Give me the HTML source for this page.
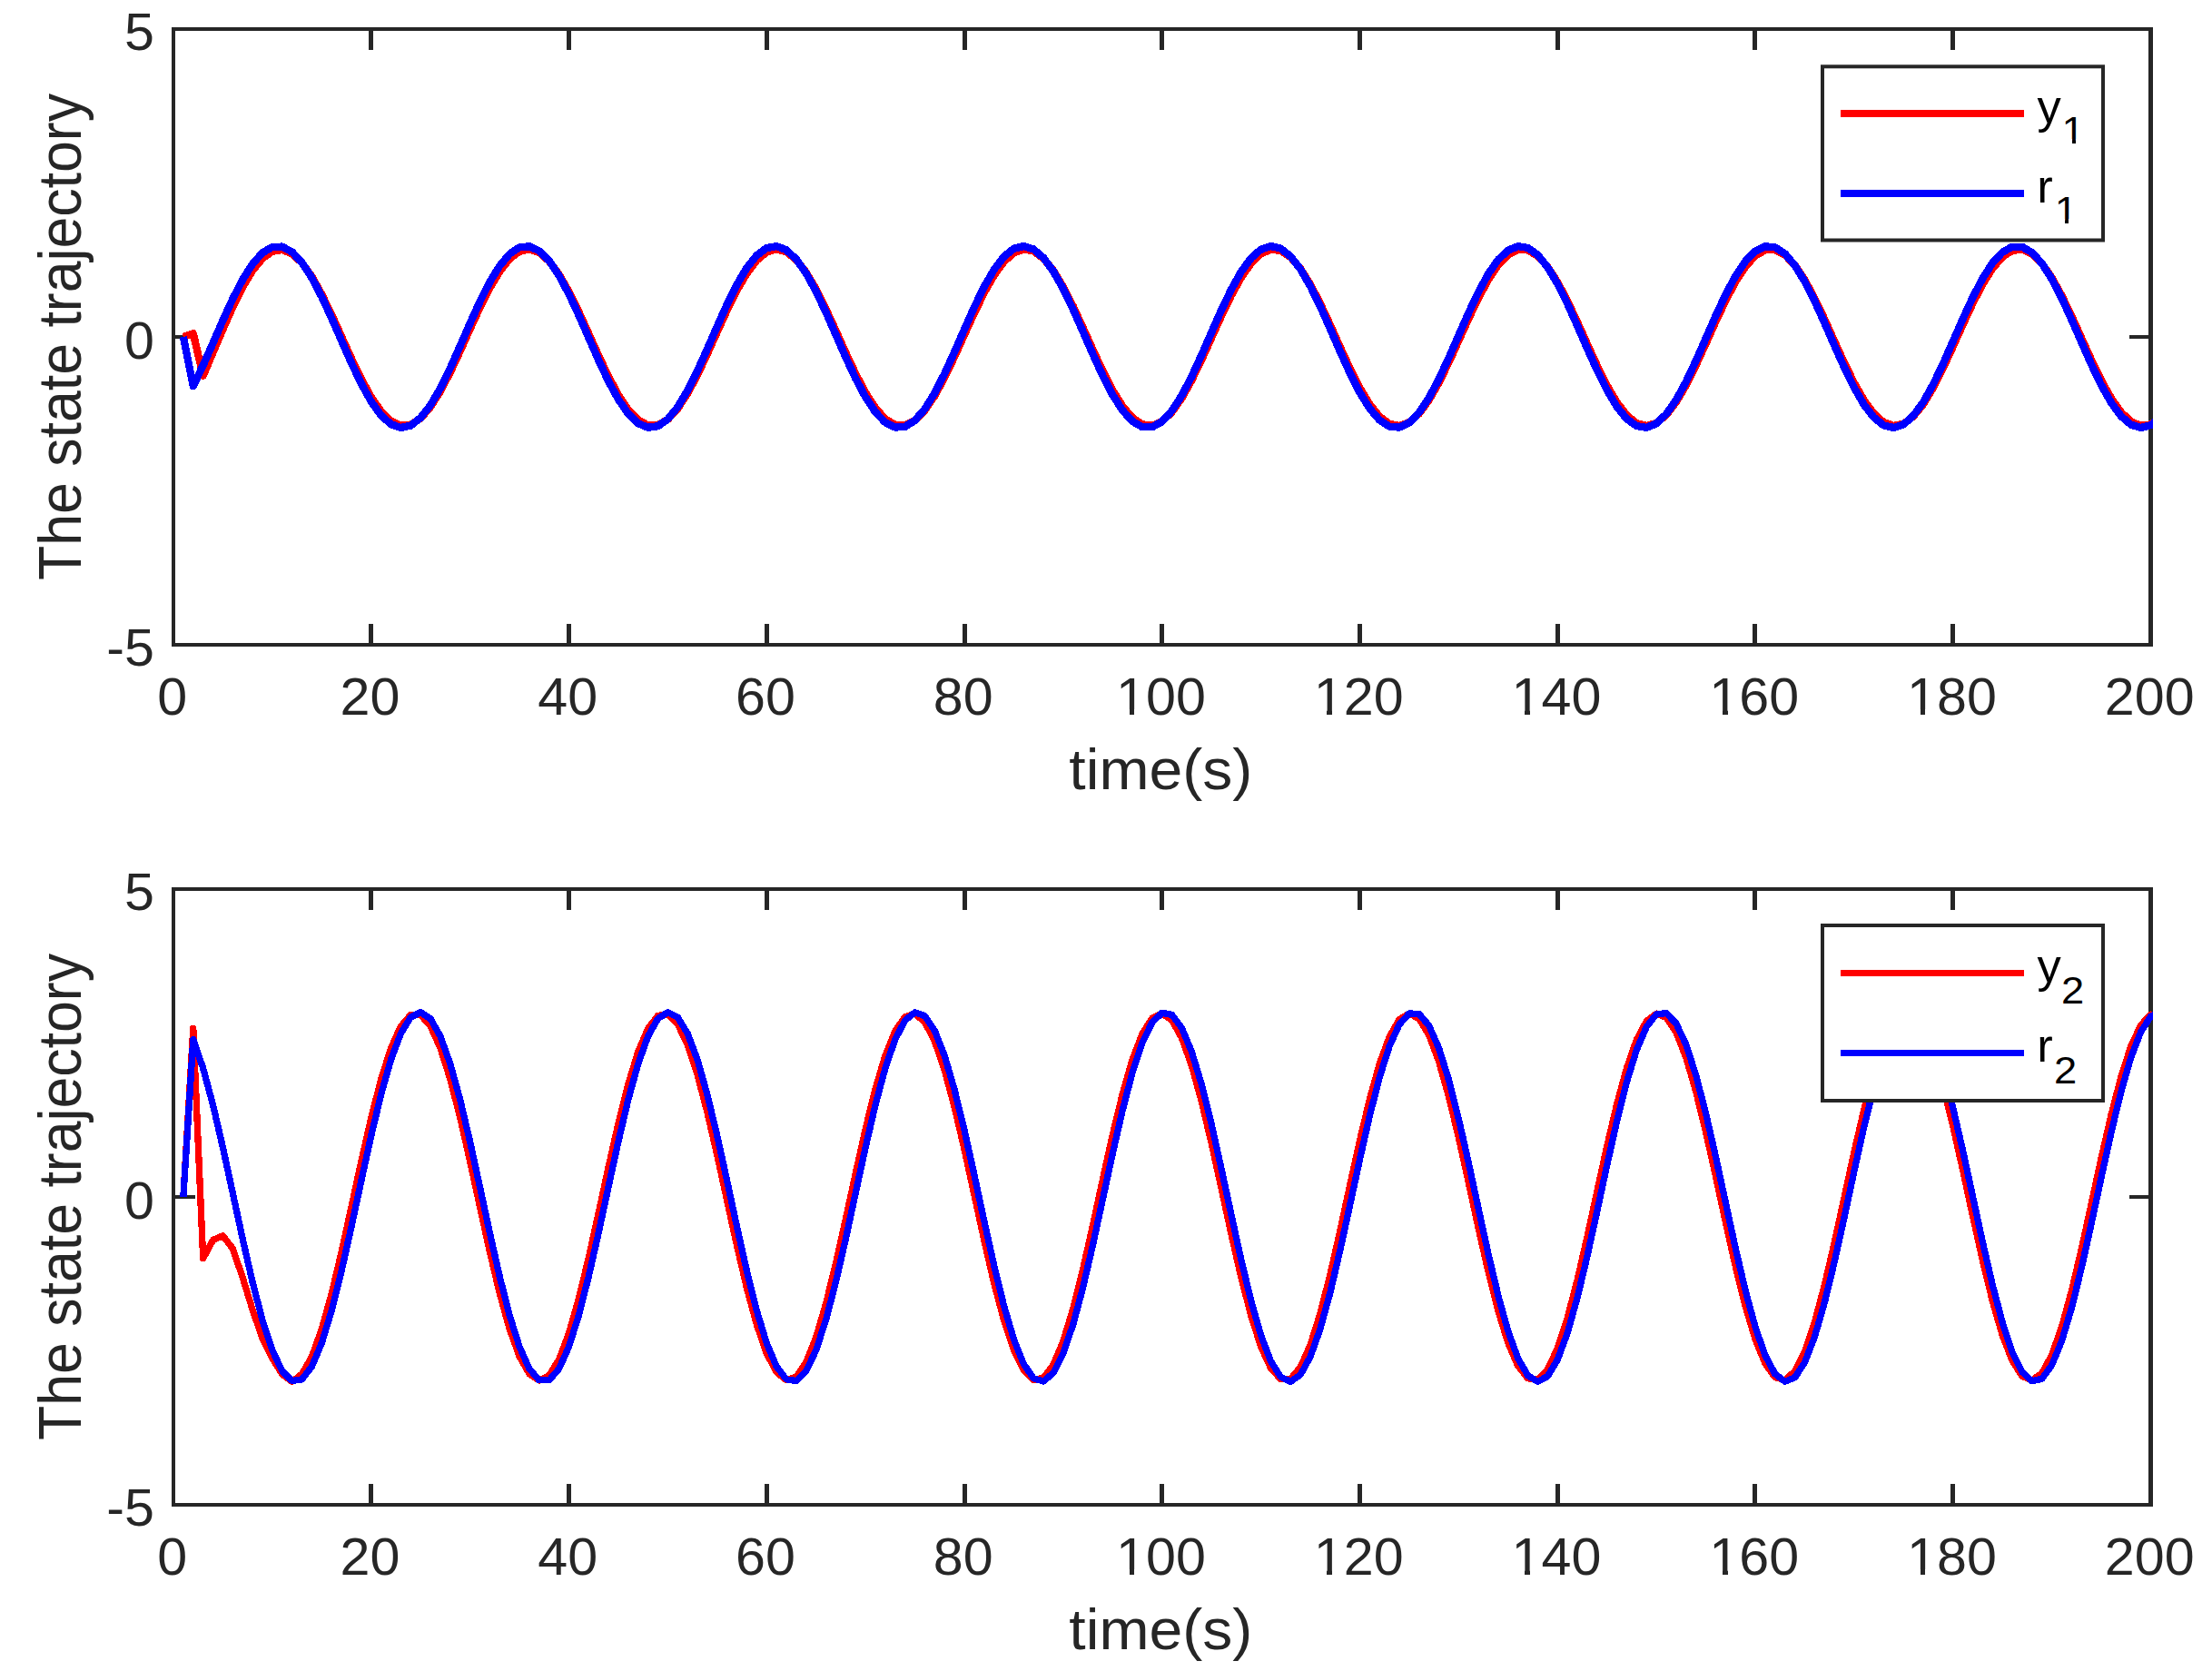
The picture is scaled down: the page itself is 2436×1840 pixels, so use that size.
<!DOCTYPE html>
<html lang="en"><head><meta charset="utf-8"><title>State trajectory</title>
<style>html,body{margin:0;padding:0;background:#fff;overflow:hidden}svg{display:block}text{font-family:"Liberation Sans",sans-serif}.tk{font-size:58.33px;fill:#262626}.lb{font-size:64.17px;fill:#262626}.lg{font-size:52.5px;fill:#000}.sb{font-size:40.5px;fill:#000}</style></head><body>
<svg width="2436" height="1840" viewBox="0 0 2436 1840">
<rect x="0" y="0" width="2436" height="1840" fill="#fff"/>
<clipPath id="c0"><rect x="191" y="32" width="2180" height="678"/></clipPath>
<g fill="#262626" shape-rendering="crispEdges">
<rect x="189" y="30" width="2182" height="4"/>
<rect x="189" y="708" width="2182" height="4"/>
<rect x="189" y="30" width="4" height="682"/>
<rect x="2366" y="30" width="5" height="682"/>
<rect x="406" y="30" width="5" height="25"/>
<rect x="406" y="687" width="5" height="25"/>
<rect x="624" y="30" width="5" height="25"/>
<rect x="624" y="687" width="5" height="25"/>
<rect x="842" y="30" width="5" height="25"/>
<rect x="842" y="687" width="5" height="25"/>
<rect x="1060" y="30" width="5" height="25"/>
<rect x="1060" y="687" width="5" height="25"/>
<rect x="1277" y="30" width="5" height="25"/>
<rect x="1277" y="687" width="5" height="25"/>
<rect x="1495" y="30" width="5" height="25"/>
<rect x="1495" y="687" width="5" height="25"/>
<rect x="1713" y="30" width="5" height="25"/>
<rect x="1713" y="687" width="5" height="25"/>
<rect x="1930" y="30" width="5" height="25"/>
<rect x="1930" y="687" width="5" height="25"/>
<rect x="2148" y="30" width="5" height="25"/>
<rect x="2148" y="687" width="5" height="25"/>
<rect x="189" y="369" width="26" height="4"/>
<rect x="2345" y="369" width="26" height="4"/>
</g>
<g clip-path="url(#c0)" fill="none" stroke-width="8.33" stroke-linejoin="round" shape-rendering="crispEdges">
<polyline stroke="#ff0000" points="201.89,371.00 212.78,367.27 223.66,413.61 234.55,388.15 245.44,362.52 256.32,338.06 267.21,316.12 278.10,297.95 288.99,284.59 299.88,276.80 310.76,275.03 321.65,279.35 332.54,289.46 343.42,304.73 354.31,324.20 365.20,346.63 376.09,370.64 386.98,394.73 397.86,417.39 408.75,437.21 419.64,452.97 430.52,463.67 441.41,468.65 452.30,467.61 463.19,460.60 474.07,448.07 484.96,430.78 495.85,409.83 506.74,386.50 517.62,362.24 528.51,338.58 539.40,316.97 550.29,298.77 561.17,285.10 572.06,276.81 582.95,274.42 593.84,278.08 604.72,287.55 615.61,302.26 626.50,321.28 637.39,343.44 648.27,367.35 659.16,391.53 670.05,414.48 680.94,434.77 691.83,451.13 702.71,462.55 713.60,468.33 724.49,468.09 735.38,461.86 746.26,450.02 757.15,433.31 768.04,412.77 778.92,389.68 789.81,365.46 800.70,341.63 811.59,319.67 822.47,300.95 833.36,286.62 844.25,277.58 855.14,274.39 866.02,277.25 876.91,285.98 887.80,300.04 898.69,318.55 909.57,340.37 920.46,364.13 931.35,388.36 942.24,411.56 953.12,432.27 964.01,449.22 974.90,461.35 985.79,467.90 996.67,468.47 1007.56,463.02 1018.45,451.89 1029.34,435.78 1040.22,415.68 1051.11,392.84 1062.00,368.69 1072.89,344.72 1083.78,322.43 1094.66,303.20 1105.55,288.23 1116.44,278.45 1127.32,274.46 1138.21,276.52 1149.10,284.50 1159.99,297.89 1170.88,315.87 1181.76,337.33 1192.65,360.92 1203.54,385.17 1214.42,408.59 1225.31,429.71 1236.20,447.23 1247.09,460.05 1257.97,467.37 1268.86,468.74 1279.75,464.08 1290.64,453.68 1301.52,438.17 1312.41,418.53 1323.30,395.98 1334.19,371.92 1345.07,347.84 1355.96,325.24 1366.85,305.53 1377.74,289.94 1388.62,279.42 1399.51,274.65 1410.40,275.90 1421.29,283.11 1432.17,295.83 1443.06,313.26 1453.95,334.33 1464.84,357.71 1475.72,381.97 1486.61,405.58 1497.50,427.09 1508.39,445.15 1519.27,458.65 1530.16,466.73 1541.05,468.91 1551.94,465.04 1562.82,455.37 1573.71,440.49 1584.60,421.33 1595.49,399.09 1606.38,375.14 1617.26,350.98 1628.15,328.10 1639.04,307.94 1649.92,291.73 1660.81,280.50 1671.70,274.94 1682.59,275.39 1693.47,281.82 1704.36,293.85 1715.25,310.71 1726.14,331.37 1737.02,354.53 1747.91,378.75 1758.80,402.54 1769.69,424.41 1780.57,443.00 1791.46,457.15 1802.35,465.99 1813.24,468.97 1824.12,465.90 1835.01,456.97 1845.90,442.73 1856.79,424.08 1867.67,402.17 1878.56,378.37 1889.45,354.15 1900.34,331.01 1911.22,310.41 1922.11,293.62 1933.00,281.68 1943.89,275.33 1954.77,274.98 1965.66,280.64 1976.55,291.95 1987.44,308.23 1998.32,328.45 2009.21,351.36 2020.10,375.53 2030.99,399.46 2041.87,421.67 2052.76,440.76 2063.65,455.56 2074.54,465.15 2085.43,468.92 2096.31,466.65 2107.20,458.47 2118.09,444.90 2128.97,426.77 2139.86,405.22 2150.75,381.58 2161.64,357.33 2172.52,333.97 2183.41,312.95 2194.30,295.59 2205.19,282.95 2216.07,275.83 2226.96,274.67 2237.85,279.55 2248.74,290.15 2259.62,305.82 2270.51,325.58 2281.40,348.21 2292.29,372.30 2303.17,396.35 2314.06,418.87 2324.95,438.45 2335.84,453.88 2346.72,464.20 2357.61,468.77 2368.50,467.30 2379.39,459.88"/>
<polyline stroke="#0000ff" points="201.89,371.00 212.78,425.24 223.66,402.19 234.55,377.72 245.44,352.82 256.32,329.06 267.21,307.90 278.10,290.67 288.99,278.43 299.88,271.95 310.76,271.62 321.65,277.48 332.54,289.15 343.42,305.91 354.31,326.71 365.20,350.27 376.09,375.12 386.98,399.71 397.86,422.52 408.75,442.12 419.64,457.31 430.52,467.12 441.41,470.96 452.30,468.59 463.19,460.14 474.07,446.16 484.96,427.50 495.85,405.33 506.74,381.02 517.62,356.09 528.51,332.09 539.40,310.51 550.29,292.69 561.17,279.73 572.06,272.46 582.95,271.31 593.84,276.35 604.72,287.28 615.61,303.42 626.50,323.76 637.39,347.04 648.27,371.80 659.16,396.52 670.05,419.65 680.94,439.75 691.83,455.58 702.71,466.15 713.60,470.81 724.49,469.26 735.38,461.60 746.26,448.30 757.15,430.21 768.04,408.43 778.92,384.32 789.81,359.38 800.70,335.17 811.59,313.18 822.47,294.79 833.36,281.14 844.25,273.08 855.14,271.10 866.02,275.33 876.91,285.52 887.80,301.01 898.69,320.86 909.57,343.83 920.46,368.48 931.35,393.30 942.24,416.72 953.12,437.30 964.01,453.77 974.90,465.08 985.79,470.54 996.67,469.82 1007.56,462.95 1018.45,450.37 1029.34,432.85 1040.22,411.48 1051.11,387.60 1062.00,362.68 1072.89,338.29 1083.78,315.92 1094.66,296.98 1105.55,282.65 1116.44,273.80 1127.32,271.00 1138.21,274.42 1149.10,283.84 1159.99,298.68 1170.88,318.02 1181.76,340.65 1192.65,365.17 1203.54,390.05 1214.42,413.75 1225.31,434.78 1236.20,451.86 1247.09,463.90 1257.97,470.17 1268.86,470.28 1279.75,464.21 1290.64,452.34 1301.52,435.42 1312.41,414.49 1323.30,390.86 1334.19,366.00 1345.07,341.44 1355.96,318.72 1366.85,299.26 1377.74,284.25 1388.62,274.64 1399.51,271.02 1410.40,273.61 1421.29,282.26 1432.17,296.43 1443.06,315.23 1453.95,337.51 1464.84,361.86 1475.72,386.78 1486.61,410.72 1497.50,432.19 1508.39,449.86 1519.27,462.62 1530.16,469.69 1541.05,470.62 1551.94,465.36 1562.82,454.23 1573.71,437.92 1584.60,417.46 1595.49,394.10 1606.38,369.31 1617.26,344.63 1628.15,321.58 1639.04,301.61 1649.92,285.95 1660.81,275.58 1671.70,271.14 1682.59,272.91 1693.47,280.78 1704.36,294.26 1715.25,312.51 1726.14,334.40 1737.02,358.56 1747.91,383.50 1758.80,407.66 1769.69,429.54 1780.57,447.78 1791.46,461.24 1802.35,469.10 1813.24,470.86 1824.12,466.40 1835.01,456.02 1845.90,440.35 1856.79,420.37 1867.67,397.32 1878.56,372.63 1889.45,347.84 1900.34,324.49 1911.22,304.04 1922.11,287.74 1933.00,276.62 1943.89,271.37 1954.77,272.32 1965.66,279.40 1976.55,292.17 1987.44,309.85 1998.32,331.33 2009.21,355.27 2020.10,380.20 2030.99,404.55 2041.87,426.81 2052.76,445.61 2063.65,459.76 2074.54,468.40 2085.43,470.98 2096.31,467.35 2107.20,457.72 2118.09,442.70 2128.97,423.23 2139.86,400.51 2150.75,375.95 2161.64,351.08 2172.52,327.46 2183.41,306.54 2194.30,289.62 2205.19,277.77 2216.07,271.72 2226.96,271.84 2237.85,278.12 2248.74,290.18 2259.62,307.26 2270.51,328.31 2281.40,352.01 2292.29,376.89 2303.17,401.40 2314.06,424.03 2324.95,443.36 2335.84,458.19 2346.72,467.60 2357.61,471.00 2368.50,468.18 2379.39,459.33"/>
</g>
<text class="tk" transform="translate(189.70 787.4) scale(1.015 0.975)" text-anchor="middle">0</text>
<text class="tk" transform="translate(407.45 787.4) scale(1.015 0.975)" text-anchor="middle">20</text>
<text class="tk" transform="translate(625.20 787.4) scale(1.015 0.975)" text-anchor="middle">40</text>
<text class="tk" transform="translate(842.95 787.4) scale(1.015 0.975)" text-anchor="middle">60</text>
<text class="tk" transform="translate(1060.70 787.4) scale(1.015 0.975)" text-anchor="middle">80</text>
<text class="tk" transform="translate(1278.45 787.4) scale(1.015 0.975)" text-anchor="middle">100</text>
<text class="tk" transform="translate(1496.20 787.4) scale(1.015 0.975)" text-anchor="middle">120</text>
<text class="tk" transform="translate(1713.95 787.4) scale(1.015 0.975)" text-anchor="middle">140</text>
<text class="tk" transform="translate(1931.70 787.4) scale(1.015 0.975)" text-anchor="middle">160</text>
<text class="tk" transform="translate(2149.45 787.4) scale(1.015 0.975)" text-anchor="middle">180</text>
<text class="tk" transform="translate(2367.20 787.4) scale(1.015 0.975)" text-anchor="middle">200</text>
<text class="tk" transform="translate(170 55.2) scale(1.015 0.975)" text-anchor="end">5</text>
<text class="tk" transform="translate(170 394.5) scale(1.015 0.975)" text-anchor="end">0</text>
<text class="tk" transform="translate(170 732.5) scale(1.015 0.975)" text-anchor="end">-5</text>
<text class="lb" transform="translate(1278.3 869.0) scale(1.03 0.985)" text-anchor="middle">time(s)</text>
<text class="lb" transform="translate(89.3 371.0) rotate(-90) scale(0.976 1.035)" text-anchor="middle">The state trajectory</text>
<rect x="2007" y="73.3" width="309" height="191.2" fill="#fff" stroke="#262626" stroke-width="4"/>
<rect x="2027" y="121.0" width="202" height="8.0" fill="#ff0000" shape-rendering="crispEdges"/>
<rect x="2027" y="209.0" width="202" height="8.0" fill="#0000ff" shape-rendering="crispEdges"/>
<text class="lg" x="2243.5" y="135.4">y</text><text class="sb" transform="translate(2270.6 157.6) scale(1.12 1.04)">1</text>
<text class="lg" x="2243.2" y="222.7">r</text><text class="sb" transform="translate(2262.7 245.6) scale(1.12 1.04)">1</text>
<clipPath id="c947"><rect x="191" y="979" width="2180" height="678"/></clipPath>
<g fill="#262626" shape-rendering="crispEdges">
<rect x="189" y="977" width="2182" height="4"/>
<rect x="189" y="1655" width="2182" height="4"/>
<rect x="189" y="977" width="4" height="682"/>
<rect x="2366" y="977" width="5" height="682"/>
<rect x="406" y="977" width="5" height="25"/>
<rect x="406" y="1634" width="5" height="25"/>
<rect x="624" y="977" width="5" height="25"/>
<rect x="624" y="1634" width="5" height="25"/>
<rect x="842" y="977" width="5" height="25"/>
<rect x="842" y="1634" width="5" height="25"/>
<rect x="1060" y="977" width="5" height="25"/>
<rect x="1060" y="1634" width="5" height="25"/>
<rect x="1277" y="977" width="5" height="25"/>
<rect x="1277" y="1634" width="5" height="25"/>
<rect x="1495" y="977" width="5" height="25"/>
<rect x="1495" y="1634" width="5" height="25"/>
<rect x="1713" y="977" width="5" height="25"/>
<rect x="1713" y="1634" width="5" height="25"/>
<rect x="1930" y="977" width="5" height="25"/>
<rect x="1930" y="1634" width="5" height="25"/>
<rect x="2148" y="977" width="5" height="25"/>
<rect x="2148" y="1634" width="5" height="25"/>
<rect x="189" y="1316" width="26" height="4"/>
<rect x="2345" y="1316" width="26" height="4"/>
</g>
<g clip-path="url(#c947)" fill="none" stroke-width="7.30" stroke-linejoin="round" shape-rendering="crispEdges">
<polyline stroke="#ff0000" points="201.89,1318.00 212.78,1132.23 223.66,1385.80 234.55,1365.46 245.44,1360.71 256.32,1374.95 267.21,1406.82 278.10,1442.07 288.99,1473.94 299.88,1495.64 310.76,1513.26 321.65,1521.40 332.54,1512.94 343.42,1493.75 354.31,1463.62 365.20,1424.45 376.09,1378.65 386.98,1329.08 397.86,1278.83 408.75,1231.01 419.64,1188.60 430.52,1154.23 441.41,1130.05 452.30,1117.55 463.19,1117.52 474.07,1129.95 484.96,1154.07 495.85,1188.38 506.74,1230.76 517.62,1278.56 528.51,1328.81 539.40,1378.39 550.29,1424.21 561.17,1463.43 572.06,1493.61 582.95,1512.87 593.84,1520.01 604.72,1514.60 615.61,1496.96 626.50,1468.19 637.39,1430.09 648.27,1385.01 659.16,1335.77 670.05,1285.43 680.94,1237.11 691.83,1193.82 702.71,1158.25 713.60,1132.61 724.49,1118.50 735.38,1116.79 746.26,1127.60 757.15,1150.24 768.04,1183.31 778.92,1224.76 789.81,1272.00 800.70,1322.11 811.59,1371.96 822.47,1418.45 833.36,1458.70 844.25,1490.20 855.14,1510.99 866.02,1519.79 876.91,1516.04 887.80,1499.97 898.69,1472.59 909.57,1435.60 920.46,1391.30 931.35,1342.44 942.24,1292.06 953.12,1243.29 964.01,1199.17 974.90,1162.44 985.79,1135.38 996.67,1119.67 1007.56,1116.30 1018.45,1125.46 1029.34,1146.60 1040.22,1178.39 1051.11,1218.86 1062.00,1265.50 1072.89,1315.40 1083.78,1365.47 1094.66,1412.58 1105.55,1453.81 1116.44,1486.60 1127.32,1508.90 1138.21,1519.34 1149.10,1517.25 1159.99,1502.78 1170.88,1476.82 1181.76,1440.99 1192.65,1397.51 1203.54,1349.08 1214.42,1298.72 1225.31,1249.56 1236.20,1204.66 1247.09,1166.80 1257.97,1138.35 1268.86,1121.06 1279.75,1116.02 1290.64,1123.53 1301.52,1143.14 1312.41,1173.62 1323.30,1213.08 1334.19,1259.06 1345.07,1308.70 1355.96,1358.92 1366.85,1406.60 1377.74,1448.77 1388.62,1482.81 1399.51,1506.60 1410.40,1518.67 1421.29,1518.26 1432.17,1505.39 1443.06,1480.88 1453.95,1446.24 1464.84,1403.63 1475.72,1355.69 1486.61,1305.41 1497.50,1255.91 1508.39,1210.27 1519.27,1171.33 1530.16,1141.51 1541.05,1122.67 1551.94,1115.96 1562.82,1121.82 1573.71,1139.88 1584.60,1169.01 1595.49,1207.41 1606.38,1252.68 1617.26,1302.01 1628.15,1352.34 1639.04,1400.53 1649.92,1443.59 1660.81,1478.84 1671.70,1504.09 1682.59,1517.77 1693.47,1519.04 1704.36,1507.80 1715.25,1484.76 1726.14,1451.35 1737.02,1409.65 1747.91,1362.25 1758.80,1312.10 1769.69,1262.32 1780.57,1216.00 1791.46,1176.02 1802.35,1144.87 1813.24,1124.49 1824.12,1116.13 1835.01,1120.33 1845.90,1136.81 1856.79,1164.57 1867.67,1201.86 1878.56,1246.37 1889.45,1295.34 1900.34,1345.71 1911.22,1394.36 1922.11,1438.27 1933.00,1474.70 1943.89,1501.38 1954.77,1516.66 1965.66,1519.59 1976.55,1509.99 1987.44,1488.45 1998.32,1456.31 2009.21,1415.57 2020.10,1368.77 2030.99,1318.81 2041.87,1268.80 2052.76,1221.85 2063.65,1180.87 2074.54,1148.42 2085.43,1126.52 2096.31,1116.52 2107.20,1119.05 2118.09,1133.95 2128.97,1160.29 2139.86,1196.44 2150.75,1240.14 2161.64,1288.69 2172.52,1339.06 2183.41,1388.12 2194.30,1432.82 2205.19,1470.38 2216.07,1498.47 2226.96,1515.33 2237.85,1519.93 2248.74,1511.97 2259.62,1491.96 2270.51,1461.12 2281.40,1421.39 2292.29,1375.23 2303.17,1325.51 2314.06,1275.33 2324.95,1227.79 2335.84,1185.87 2346.72,1152.16 2357.61,1128.76 2368.50,1117.13 2379.39,1117.99"/>
<polyline stroke="#0000ff" points="201.89,1318.00 212.78,1144.60 223.66,1176.29 234.55,1216.79 245.44,1263.59 256.32,1313.77 267.21,1364.21 278.10,1411.78 288.99,1453.52 299.88,1486.83 310.76,1509.65 321.65,1520.55 332.54,1518.85 343.42,1504.67 354.31,1478.88 365.20,1443.09 376.09,1399.52 386.98,1350.88 397.86,1300.20 408.75,1250.63 419.64,1205.24 430.52,1166.86 441.41,1137.89 452.30,1120.10 463.19,1114.63 474.07,1121.80 484.96,1141.16 495.85,1171.53 506.74,1211.00 517.62,1257.12 528.51,1307.03 539.40,1357.62 550.29,1405.74 561.17,1448.41 572.06,1482.98 582.95,1507.28 593.84,1519.82 604.72,1519.81 615.61,1507.25 626.50,1482.92 637.39,1448.34 648.27,1405.66 659.16,1357.53 670.05,1306.94 680.94,1257.03 691.83,1210.92 702.71,1171.46 713.60,1141.12 724.49,1121.77 735.38,1114.63 746.26,1120.13 757.15,1137.93 768.04,1166.92 778.92,1205.32 789.81,1250.71 800.70,1300.29 811.59,1350.97 822.47,1399.61 833.36,1443.16 844.25,1478.94 855.14,1504.71 866.02,1518.87 876.91,1520.54 887.80,1509.62 898.69,1486.78 909.57,1453.45 920.46,1411.70 931.35,1364.12 942.24,1313.68 953.12,1263.50 964.01,1216.72 974.90,1176.23 985.79,1144.55 996.67,1123.66 1007.56,1114.85 1018.45,1118.67 1029.34,1134.89 1040.22,1162.49 1051.11,1199.76 1062.00,1244.38 1072.89,1293.58 1083.78,1344.30 1094.66,1393.38 1105.55,1437.77 1116.44,1474.72 1127.32,1501.93 1138.21,1517.70 1149.10,1521.05 1159.99,1511.78 1170.88,1490.46 1181.76,1458.41 1192.65,1417.64 1203.54,1370.67 1214.42,1320.43 1225.31,1270.04 1236.20,1222.62 1247.09,1181.14 1257.97,1148.17 1268.86,1125.76 1279.75,1115.30 1290.64,1117.44 1301.52,1132.05 1312.41,1158.23 1323.30,1194.33 1334.19,1238.13 1345.07,1286.89 1355.96,1337.59 1366.85,1387.07 1377.74,1432.25 1388.62,1470.33 1399.51,1498.94 1410.40,1516.30 1421.29,1521.33 1432.17,1513.72 1443.06,1493.94 1453.95,1463.22 1464.84,1423.47 1475.72,1377.16 1486.61,1327.18 1497.50,1276.62 1508.39,1228.64 1519.27,1186.21 1530.16,1151.98 1541.05,1128.07 1551.94,1115.97 1562.82,1116.43 1573.71,1129.42 1584.60,1154.14 1595.49,1189.04 1606.38,1231.97 1617.26,1280.24 1628.15,1330.86 1639.04,1380.68 1649.92,1426.61 1660.81,1465.78 1671.70,1495.76 1682.59,1514.69 1693.47,1521.39 1704.36,1515.45 1715.25,1497.23 1726.14,1467.86 1737.02,1429.18 1747.91,1383.59 1758.80,1333.91 1769.69,1283.25 1780.57,1234.75 1791.46,1191.42 1802.35,1155.97 1813.24,1130.59 1824.12,1116.86 1835.01,1115.63 1845.90,1126.99 1856.79,1150.23 1867.67,1183.90 1878.56,1225.90 1889.45,1273.63 1900.34,1324.12 1911.22,1374.23 1922.11,1420.84 1933.00,1461.06 1943.89,1492.38 1954.77,1512.87 1965.66,1521.23 1976.55,1516.96 1987.44,1500.32 1998.32,1472.34 2009.21,1434.77 2020.10,1389.94 2030.99,1340.63 2041.87,1289.92 2052.76,1240.95 2063.65,1196.78 2074.54,1160.14 2085.43,1133.31 2096.31,1117.97 2107.20,1115.07 2118.09,1124.78 2128.97,1146.51 2139.86,1178.89 2150.75,1219.93 2161.64,1267.07 2172.52,1317.37 2183.41,1367.71 2194.30,1414.96 2205.19,1456.18 2216.07,1488.81 2226.96,1510.82 2237.85,1520.85 2248.74,1518.25 2259.62,1503.21 2270.51,1476.65 2281.40,1440.23 2292.29,1396.21 2303.17,1347.33 2314.06,1296.62 2324.95,1247.24 2335.84,1202.26 2346.72,1164.48 2357.61,1136.24 2368.50,1119.30 2379.39,1114.72"/>
</g>
<text class="tk" transform="translate(189.70 1734.4) scale(1.015 0.975)" text-anchor="middle">0</text>
<text class="tk" transform="translate(407.45 1734.4) scale(1.015 0.975)" text-anchor="middle">20</text>
<text class="tk" transform="translate(625.20 1734.4) scale(1.015 0.975)" text-anchor="middle">40</text>
<text class="tk" transform="translate(842.95 1734.4) scale(1.015 0.975)" text-anchor="middle">60</text>
<text class="tk" transform="translate(1060.70 1734.4) scale(1.015 0.975)" text-anchor="middle">80</text>
<text class="tk" transform="translate(1278.45 1734.4) scale(1.015 0.975)" text-anchor="middle">100</text>
<text class="tk" transform="translate(1496.20 1734.4) scale(1.015 0.975)" text-anchor="middle">120</text>
<text class="tk" transform="translate(1713.95 1734.4) scale(1.015 0.975)" text-anchor="middle">140</text>
<text class="tk" transform="translate(1931.70 1734.4) scale(1.015 0.975)" text-anchor="middle">160</text>
<text class="tk" transform="translate(2149.45 1734.4) scale(1.015 0.975)" text-anchor="middle">180</text>
<text class="tk" transform="translate(2367.20 1734.4) scale(1.015 0.975)" text-anchor="middle">200</text>
<text class="tk" transform="translate(170 1002.2) scale(1.015 0.975)" text-anchor="end">5</text>
<text class="tk" transform="translate(170 1341.5) scale(1.015 0.975)" text-anchor="end">0</text>
<text class="tk" transform="translate(170 1679.5) scale(1.015 0.975)" text-anchor="end">-5</text>
<text class="lb" transform="translate(1278.3 1816.0) scale(1.03 0.985)" text-anchor="middle">time(s)</text>
<text class="lb" transform="translate(89.3 1318.0) rotate(-90) scale(0.976 1.035)" text-anchor="middle">The state trajectory</text>
<rect x="2007" y="1019.0" width="309" height="193.0" fill="#fff" stroke="#262626" stroke-width="4"/>
<rect x="2027" y="1068.0" width="202" height="7.0" fill="#ff0000" shape-rendering="crispEdges"/>
<rect x="2027" y="1156.0" width="202" height="7.0" fill="#0000ff" shape-rendering="crispEdges"/>
<text class="lg" x="2243.5" y="1081.3">y</text><text class="sb" transform="translate(2270.0 1104.8) scale(1.12 1.04)">2</text>
<text class="lg" x="2243.2" y="1169.0">r</text><text class="sb" transform="translate(2262.1 1192.9) scale(1.12 1.04)">2</text>
<rect x="1232" y="781" width="12" height="7" fill="#fff"/>
<rect x="1249" y="781" width="12" height="7" fill="#fff"/>
<rect x="1450" y="781" width="11" height="7" fill="#fff"/>
<rect x="1467" y="781" width="12" height="7" fill="#fff"/>
<rect x="1668" y="781" width="11" height="7" fill="#fff"/>
<rect x="1685" y="781" width="12" height="7" fill="#fff"/>
<rect x="1886" y="781" width="11" height="7" fill="#fff"/>
<rect x="1903" y="781" width="12" height="7" fill="#fff"/>
<rect x="2103" y="781" width="12" height="7" fill="#fff"/>
<rect x="2120" y="781" width="12" height="7" fill="#fff"/>
<rect x="1232" y="1728" width="12" height="7" fill="#fff"/>
<rect x="1249" y="1728" width="12" height="7" fill="#fff"/>
<rect x="1450" y="1728" width="11" height="7" fill="#fff"/>
<rect x="1467" y="1728" width="12" height="7" fill="#fff"/>
<rect x="1668" y="1728" width="11" height="7" fill="#fff"/>
<rect x="1685" y="1728" width="12" height="7" fill="#fff"/>
<rect x="1886" y="1728" width="11" height="7" fill="#fff"/>
<rect x="1903" y="1728" width="12" height="7" fill="#fff"/>
<rect x="2103" y="1728" width="12" height="7" fill="#fff"/>
<rect x="2120" y="1728" width="12" height="7" fill="#fff"/>
<rect x="2273" y="153" width="9" height="6" fill="#fff"/>
<rect x="2286" y="153" width="10" height="6" fill="#fff"/>
<rect x="2265" y="241" width="9" height="6" fill="#fff"/>
<rect x="2278" y="241" width="10" height="6" fill="#fff"/>
</svg></body></html>
